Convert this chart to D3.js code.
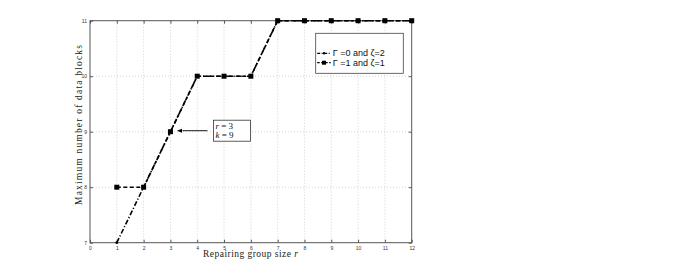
<!DOCTYPE html>
<html>
<head>
<meta charset="utf-8">
<script src="https://cdn.jsdelivr.net/npm/d3@7"></script>
<style>
  body { margin: 0; background: #fff; }
  svg { display: block; }
</style>
</head>
<body>
<div id="plot"></div>
<script>
// ############ DATA ###############
const groupSize = [1, 2, 3, 4, 5, 6, 7, 8, 9, 10, 11, 12];
const blocksG0 = [7, 8, 9, 10, 10, 10, 11, 11, 11, 11, 11, 11];   // Γ=0, ζ=2
const blocksG1 = [8, 8, 9, 10, 10, 10, 11, 11, 11, 11, 11, 11];   // Γ=1, ζ=1
const xTicks = d3.range(0, 13);
const yTicks = [7, 8, 9, 10, 11];
const legendLabels = ["\u0393 =0 and \u03B6=2", "\u0393 =1 and \u03B6=1"];

// ############ SETUP ###############
const w = 692, h = 278;
const margin = {left: 90, right: 280.3, top: 20.7, bottom: 35.3};
const innerWidth = w - margin.left - margin.right;
const innerHeight = h - margin.top - margin.bottom;

const xScale = d3.scaleLinear().domain([0, 12]).range([0, innerWidth]);
const yScale = d3.scaleLinear().domain([7, 11]).range([innerHeight, 0]);

const svg = d3.select("div#plot")
  .append("svg")
  .attr("width", w)
  .attr("height", h);

const g = svg.append("g")
  .attr("id", "plotarea")
  .attr("transform", `translate(${margin.left}, ${margin.top})`);

// grid
g.append("g")
  .selectAll("line")
  .data(xTicks.slice(1, -1))
  .join("line")
    .attr("x1", d => xScale(d)).attr("x2", d => xScale(d))
    .attr("y1", 0).attr("y2", innerHeight)
    .attr("stroke", "#c8c8c8").attr("stroke-width", 0.8)
    .attr("stroke-dasharray", "1,2");

g.append("g")
  .selectAll("line")
  .data(yTicks.slice(1, -1))
  .join("line")
    .attr("x1", 0).attr("x2", innerWidth)
    .attr("y1", d => yScale(d)).attr("y2", d => yScale(d))
    .attr("stroke", "#c8c8c8").attr("stroke-width", 0.8)
    .attr("stroke-dasharray", "1,2");

// axes (ticks inside, like matlab)
const xAxis = d3.axisBottom(xScale).tickValues(xTicks).tickSize(-3).tickPadding(4).tickFormat(d3.format("d"));
const yAxis = d3.axisLeft(yScale).tickValues(yTicks).tickSize(-3).tickPadding(3).tickFormat(d3.format("d"));

function styleAxis(sel) {
  sel.select(".domain").remove();
  sel.selectAll(".tick line").attr("stroke", "#555");
  sel.selectAll(".tick text")
    .attr("font-family", "Liberation Sans, Arial, sans-serif")
    .attr("font-size", 5)
    .attr("fill", "#333");
}

g.append("g")
  .attr("transform", `translate(0, ${innerHeight})`)
  .call(xAxis).call(styleAxis);

g.append("g")
  .call(yAxis).call(styleAxis);

// mirror ticks on top / right
g.append("g").call(d3.axisTop(xScale).tickValues(xTicks).tickSize(-3).tickFormat(""))
  .call(styleAxis);
g.append("g").attr("transform", `translate(${innerWidth}, 0)`)
  .call(d3.axisRight(yScale).tickValues(yTicks).tickSize(-3).tickFormat(""))
  .call(styleAxis);

// frame
g.append("rect")
  .attr("width", innerWidth)
  .attr("height", innerHeight)
  .attr("fill", "none")
  .attr("stroke", "#555")
  .attr("stroke-width", 1);

// ############ SERIES ###############
const line = d3.line()
  .x(d => xScale(d[0]))
  .y(d => yScale(d[1]));

const s0 = groupSize.map((x, i) => [x, blocksG0[i]]);
const s1 = groupSize.map((x, i) => [x, blocksG1[i]]);

g.append("path")
  .datum(s1)
  .attr("d", line)
  .attr("fill", "none")
  .attr("stroke", "#000")
  .attr("stroke-width", 1.6)
  .attr("stroke-dasharray", "4,2.5");

g.append("path")
  .datum(s0)
  .attr("d", line)
  .attr("fill", "none")
  .attr("stroke", "#000")
  .attr("stroke-width", 1.6)
  .attr("stroke-dasharray", "5,2,1.2,2");

g.append("g")
  .selectAll("rect")
  .data(s1)
  .join("rect")
    .attr("x", d => xScale(d[0]) - 2.5)
    .attr("y", d => yScale(d[1]) - 2.5)
    .attr("width", 5).attr("height", 5)
    .attr("fill", "#000");

g.append("g")
  .selectAll("circle")
  .data(s0)
  .join("circle")
    .attr("cx", d => xScale(d[0]))
    .attr("cy", d => yScale(d[1]))
    .attr("r", 1.4)
    .attr("fill", "#000");

// ############ ANNOTATION ###############
const annX = xScale(3), annY = yScale(9);

svg.append("defs").append("marker")
  .attr("id", "arrow")
  .attr("viewBox", "0 0 10 10")
  .attr("refX", 0).attr("refY", 5)
  .attr("markerWidth", 6).attr("markerHeight", 6)
  .attr("orient", "auto-start-reverse")
  .append("path")
    .attr("d", "M0,1 L10,5 L0,9 z")
    .attr("fill", "#000");

g.append("line")
  .attr("x1", annX + 37).attr("y1", annY - 1)
  .attr("x2", annX + 12).attr("y2", annY - 1)
  .attr("stroke", "#000")
  .attr("stroke-width", 0.9)
  .attr("marker-end", "url(#arrow)");

g.append("rect")
  .attr("x", annX + 43).attr("y", annY - 11.5)
  .attr("width", 37).attr("height", 21)
  .attr("fill", "#fff")
  .attr("stroke", "#333")
  .attr("stroke-width", 0.8);

const annText = g.append("text")
  .attr("font-family", "Liberation Serif, DejaVu Serif, serif")
  .attr("font-size", 9)
  .attr("fill", "#111");
annText.append("tspan").attr("x", annX + 45).attr("y", annY - 3)
  .html("<tspan font-style='italic'>r</tspan> = 3");
annText.append("tspan").attr("x", annX + 45).attr("y", annY + 6.5)
  .html("<tspan font-style='italic'>k</tspan> = 9");

// ############ LEGEND ###############
const legX = 315.7 - margin.left, legY = 33.3 - margin.top;
const leg = g.append("g").attr("transform", `translate(${legX}, ${legY})`);

leg.append("rect")
  .attr("width", 87.6).attr("height", 40)
  .attr("fill", "#fff")
  .attr("stroke", "#444")
  .attr("stroke-width", 0.8);

const rows = [
  {label: legendLabels[0], dash: "3,1.5,1,1.5", marker: "dot", y: 20},
  {label: legendLabels[1], dash: "2.5,1.5", marker: "square", y: 29.4}
];

rows.forEach(r => {
  leg.append("line")
    .attr("x1", 1.5).attr("x2", 15)
    .attr("y1", r.y).attr("y2", r.y)
    .attr("stroke", "#000").attr("stroke-width", 1.2)
    .attr("stroke-dasharray", r.dash);
  if (r.marker === "dot") {
    leg.append("circle").attr("cx", 8.3).attr("cy", r.y).attr("r", 1.2).attr("fill", "#000");
  } else {
    leg.append("rect").attr("x", 6.3).attr("y", r.y - 2).attr("width", 4).attr("height", 4).attr("fill", "#000");
  }
  leg.append("text")
    .attr("x", 17).attr("y", r.y + 3)
    .attr("font-family", "Liberation Sans, Arial, sans-serif")
    .attr("font-size", 9)
    .attr("fill", "#111")
    .text(r.label);
});

// ############ AXIS LABELS ###############
svg.append("text")
  .attr("x", 203)
  .attr("y", 257)
  .attr("textLength", 95)
  .attr("lengthAdjust", "spacing")
  .attr("font-family", "Liberation Serif, DejaVu Serif, serif")
  .attr("font-size", 9.5)
  .attr("fill", "#222")
  .html("Repairing group size <tspan font-style='italic'>r</tspan>");

svg.append("text")
  .attr("transform", `translate(81.5, 205) rotate(-90)`)
  .attr("textLength", 160)
  .attr("lengthAdjust", "spacing")
  .attr("font-family", "Liberation Serif, DejaVu Serif, serif")
  .attr("font-size", 9.5)
  .attr("fill", "#222")
  .text("Maximum number of data blocks");
</script>
</body>
</html>
